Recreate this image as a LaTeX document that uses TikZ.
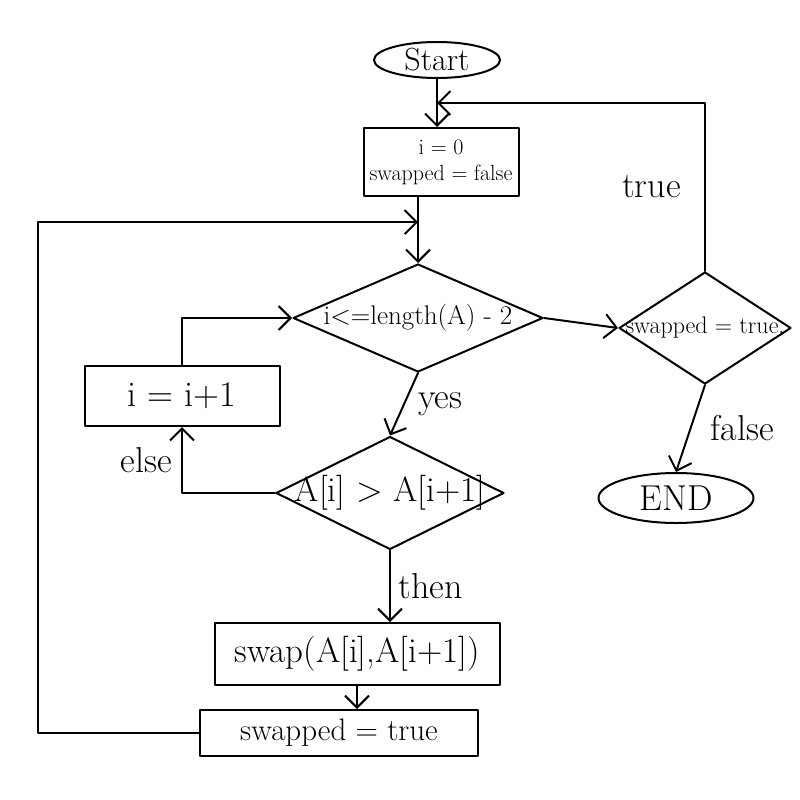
\documentclass[tikz,border=0pt]{standalone}
\usetikzlibrary{shapes.geometric,arrows.meta,calc}
\begin{document}
\begin{tikzpicture}[x=1pt,y=-1pt,
  line width=2pt, line join=round, line cap=round,
  txt/.style={font=\fontsize{#1}{#1}\selectfont},
  arr/.style={-{Straight Barb[length=12pt,width=24pt,line width=2pt]}},
  term/.style={ellipse,draw,inner sep=0pt},
  procbox/.style={rectangle,draw,inner sep=0pt,align=center},
  decide/.style={diamond,draw,inner sep=0pt},
  lbl/.style={font=\fontsize{36}{36}\selectfont}
]
\useasboundingbox (0,0) rectangle (800,800);

% terminals
\node[term,minimum width=126,minimum height=36,txt=32] (start) at (437,60) {Start};
\node[term,minimum width=155,minimum height=50,txt=36] (endn) at (676,498) {END};

% process boxes
\node[procbox,minimum width=155,minimum height=68,font=\fontsize{22}{26}\selectfont] (init) at (441,162) {i = 0\\swapped = false};
\node[procbox,minimum width=195,minimum height=60,txt=36] (inc) at (182,396) {i = i+1};
\node[procbox,minimum width=285,minimum height=62,txt=35] (swap) at (357,654) {swap(A[i],A[i+1])};
\node[procbox,minimum width=278,minimum height=46,txt=31] (swapped) at (339,733) {swapped = true};

% decisions (outline and text kept apart so the text may run to the corners)
\node[decide,minimum width=250,minimum height=108] (cond) at (418,318) {};
\node[txt=27] (condtxt) at (cond) {i<=length(A) - 2};
\node[decide,minimum width=228,minimum height=113] (d2) at (390,493) {};
\node[txt=35] (d2txt) at (d2) {A[i] > A[i+1]};
\node[decide,minimum width=172,minimum height=112] (d3) at (705,328) {};
\node[txt=24] (d3txt) at (d3) {swapped = true.};

% points on the spine where the loops come back in
\coordinate (topin) at ($(start.south)!0.5!(start.south |- init.north)$);
\coordinate (midin) at ($(cond.north |- init.south)!0.38!(cond.north)$);

% main flow
\draw[arr] (start.south) -- (start.south |- init.north);
\draw[arr] (cond.north |- init.south) -- (cond.north);
\draw[arr] (cond.south) -- (d2.north) node[midway,right=10pt,lbl] (yes) {yes};
\draw[arr] (d2.south) -- (d2.south |- swap.north) node[midway,right=4pt,lbl] (then) {then};
\draw[arr] (swap.south) -- (swap.south |- swapped.north);
\draw[arr] (cond.east) -- (d3.west);
\draw[arr] (d3.south) -- (endn.north) node[midway,right=16pt,lbl] (false) {false};

% loops
\draw[arr] (d2.west) -| (inc.south) node[pos=0.75,left=6pt,lbl] (else) {else};
\draw[arr] (inc.north) |- (cond.west);
\draw[arr] (d3.north) |- (topin) node[pos=0.25,left=20pt,lbl] (true) {true};
\draw[arr] (swapped.west) -| ($(midin)+(-380,0)$) -- (midin);
\end{tikzpicture}
\end{document}
